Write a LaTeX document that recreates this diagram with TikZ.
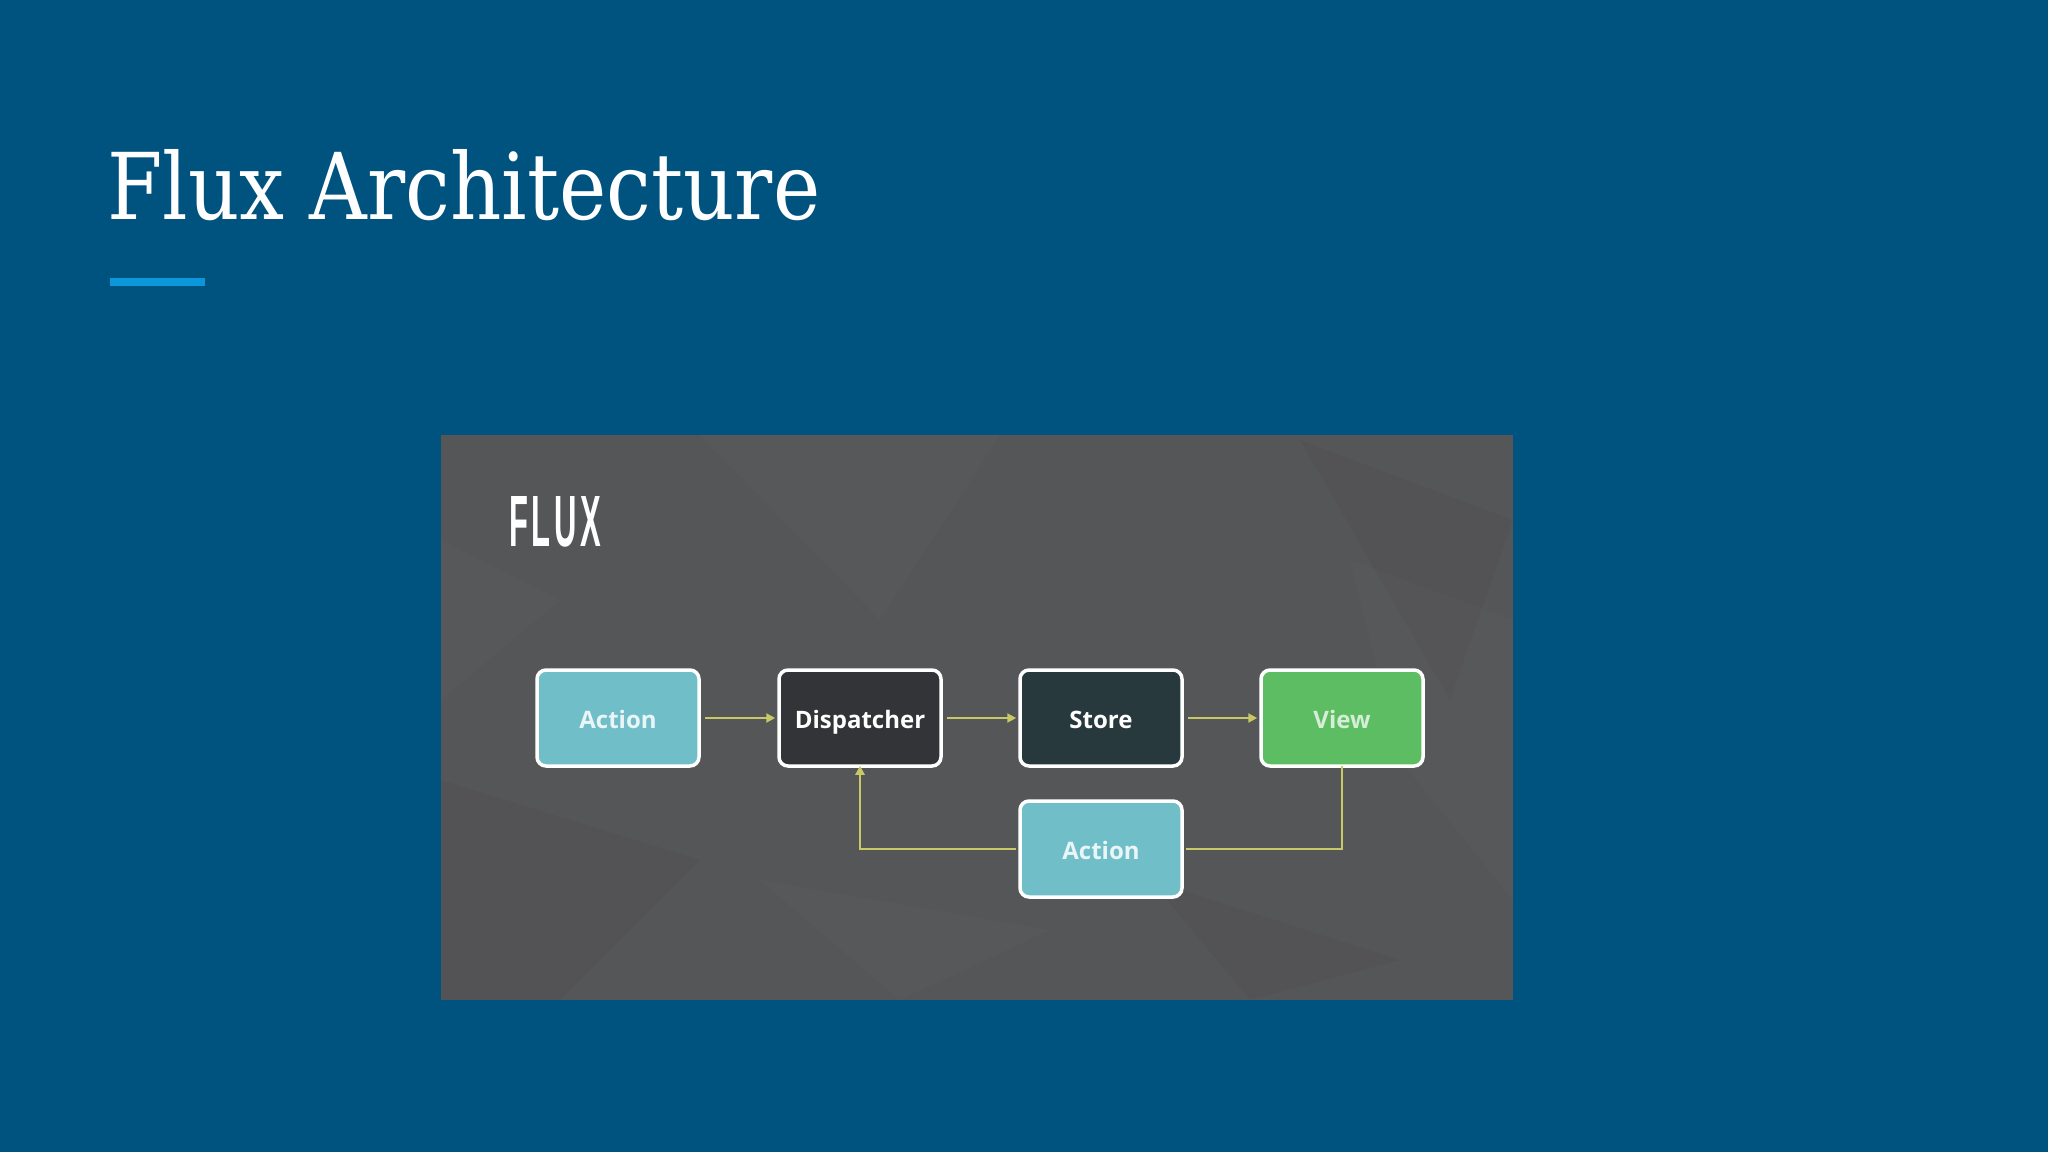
\documentclass[tikz,border=0pt]{standalone}
\usepackage{fontspec}
\setmainfont{DejaVu Serif}
\newfontfamily\boxfont{Open Sans}
\newfontfamily\fluxfont[LetterSpace=12]{Liberation Sans}
\usetikzlibrary{arrows.meta}
\definecolor{bgblue}{HTML}{01537F}
\definecolor{accentblue}{HTML}{0B97D9}
\definecolor{panelgray}{HTML}{555658}
\definecolor{actionteal}{HTML}{70BFC8}
\definecolor{dispdark}{HTML}{333437}
\definecolor{storedark}{HTML}{28393E}
\definecolor{viewgreen}{HTML}{5DBD62}
\definecolor{connyellow}{HTML}{C8C867}
\tikzset{
  fluxbox/.style={rounded corners=9pt, draw=white, line width=3.5pt,
    minimum width=162pt, minimum height=96pt, inner sep=0pt,
    text height=21pt, text depth=0pt,
    font=\boxfont\bfseries\fontsize{24}{28}\selectfont, text=white},
  conn/.style={draw=connyellow, line width=2.4pt},
  connarrow/.style={conn, -{Triangle[length=9pt,width=9pt]}},
  facet/.style={fill=white, fill opacity=0.015},
  shade/.style={fill=black, fill opacity=0.025}
}
\begin{document}
\begin{tikzpicture}[x=1pt,y=-1pt]
\useasboundingbox (0,0) rectangle (2048,1152);
\fill[bgblue] (0,0) rectangle (2048,1152);
% title
\node[anchor=base west, inner sep=0pt, text=white] (title) at (107,219)
  {\resizebox{713pt}{70pt}{Flux Architecture}};
\fill[accentblue] (110,278) rectangle (205,286);
% panel
\fill[panelgray] (441,435) rectangle (1513,1000);
\begin{scope}
\clip (441,435) rectangle (1513,1000);
\fill[facet] (700,435) -- (1000,435) -- (880,620) -- cycle;
\fill[shade] (1300,440) -- (1513,520) -- (1450,700) -- cycle;
\fill[facet] (1350,560) -- (1513,620) -- (1513,900) -- (1400,760) -- cycle;
\fill[shade] (441,780) -- (700,860) -- (560,1000) -- (441,1000) -- cycle;
\fill[facet] (760,880) -- (1050,930) -- (900,1000) -- cycle;
\fill[shade] (1150,880) -- (1400,960) -- (1250,1000) -- cycle;
\fill[facet] (441,540) -- (560,600) -- (441,700) -- cycle;
\end{scope}
\node[anchor=north west, inner sep=0pt, text=white] (flux) at (509,496)
  {\resizebox{92pt}{50pt}{\fluxfont\bfseries FLUX}};
% boxes
\node[fluxbox, fill=actionteal, text=white!85!actionteal] (a1) at (618,718) {Action};
\node[fluxbox, fill=dispdark] (disp) at (860,718) {Dispatcher};
\node[fluxbox, fill=storedark] (store) at (1101,718) {Store};
\node[fluxbox, fill=viewgreen, text=white!75!viewgreen] (view) at (1342,718) {View};
\node[fluxbox, fill=actionteal, text=white!85!actionteal] (a2) at (1101,849) {Action};
% connectors
\draw[connarrow] ([xshift=4pt]a1.east) -- ([xshift=-2pt]disp.west);
\draw[connarrow] ([xshift=4pt]disp.east) -- ([xshift=-2pt]store.west);
\draw[connarrow] ([xshift=4pt]store.east) -- ([xshift=-2pt]view.west);
\draw[conn] ([yshift=2pt]view.south) |- ([xshift=2pt]a2.east);
\draw[connarrow] ([xshift=-2pt]a2.west) -| ([yshift=2pt]disp.south);
\end{tikzpicture}
\end{document}
